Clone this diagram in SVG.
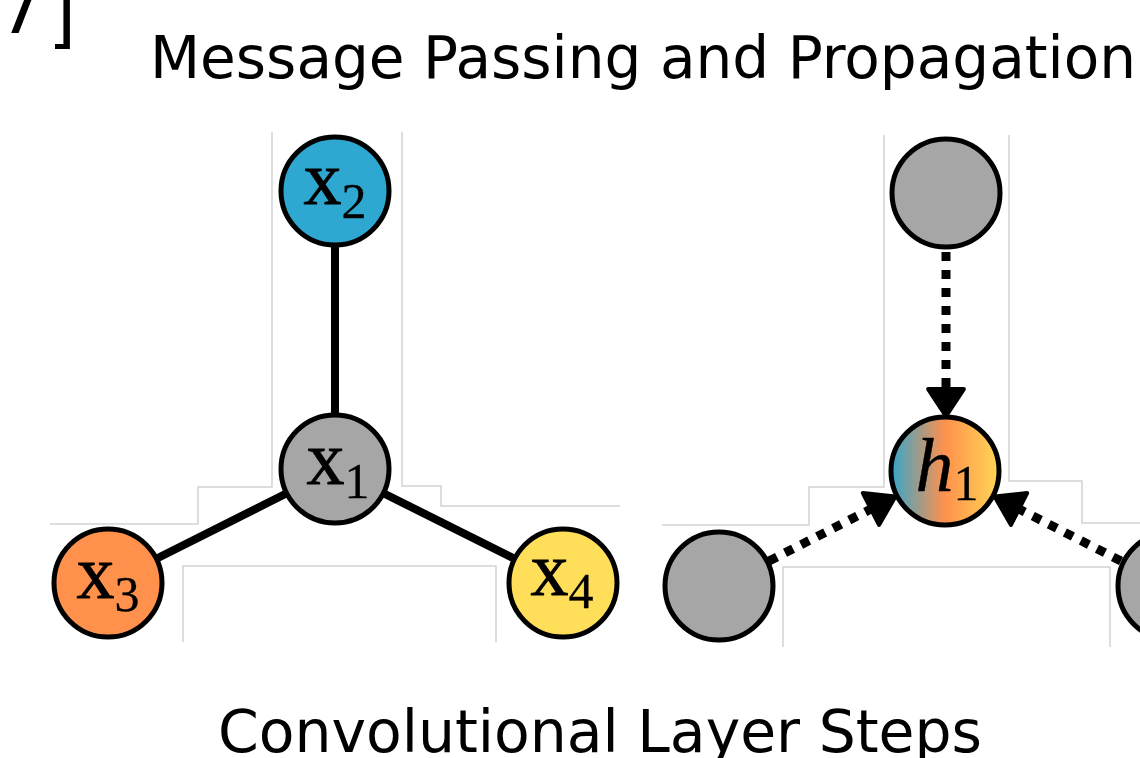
<svg xmlns="http://www.w3.org/2000/svg" width="1140" height="758" viewBox="0 0 1140 758">
  <style>
    .title { font-family: "DejaVu Sans", Verdana, sans-serif; font-size: 58px; fill: #000; }
    .corner { font-family: "DejaVu Sans", Verdana, sans-serif; font-size: 72px; fill: #000; }
    .guide { fill: none; stroke: #d2d2d2; stroke-width: 1.5; }
    .node { stroke: #000; stroke-width: 5; }
    .edge { stroke: #000; stroke-width: 8; fill: none; }
    .msg { stroke: #000; stroke-width: 9; stroke-dasharray: 9 9; fill: none; }
    .lbl { font-family: "Liberation Serif", "Times New Roman", serif; font-size: 76px; fill: #000; stroke: #000; stroke-width: 0.8; }
    .ital { font-style: italic; stroke-width: 0.4; }
    .sub { font-size: 50px; font-style: normal; stroke-width: 0.3; }
    .gray { fill: #a6a6a6; }
  </style>
  <defs>
    <linearGradient id="mix" x1="0" y1="0" x2="1" y2="0">
      <stop offset="0" stop-color="#36a6cc"/>
      <stop offset="0.5" stop-color="#ff914d"/>
      <stop offset="1" stop-color="#ffd655"/>
    </linearGradient>
    <marker id="head" markerUnits="userSpaceOnUse" markerWidth="44" markerHeight="46" viewBox="-3 -22 34 44" refX="0" refY="0" orient="auto">
      <path d="M0,-17 L26,0 L0,17 Z" fill="#000" stroke="#000" stroke-width="4" stroke-linejoin="round"/>
    </marker>
  </defs>

  <rect width="1140" height="758" fill="#fff"/>

  <!-- headings -->
  <text class="corner"><tspan x="-2" y="33">7</tspan><tspan x="48" y="39">]</tspan></text>
  <text class="title" x="150" y="78" textLength="986" lengthAdjust="spacingAndGlyphs">Message Passing and Propagation</text>
  <text class="title" x="218" y="752" textLength="764" lengthAdjust="spacingAndGlyphs">Convolutional Layer Steps</text>

  <!-- light outline strips behind each graph -->
  <g id="guides">
    <polyline class="guide" points="50,524 198,524 198,487 272,487 272,132"/>
    <polyline class="guide" points="402,132 402,486 441,486 441,506 620,506"/>
    <polyline class="guide" points="183,642 183,566 496,566 496,642"/>
    <polyline class="guide" points="662,525 809,525 809,487 884,487 884,135"/>
    <polyline class="guide" points="1009,135 1009,481 1082,481 1082,523 1140,523"/>
    <polyline class="guide" points="783,647 783,567 1110,567 1110,647"/>
  </g>

  <g id="connectors">
    <line class="edge" x1="335" y1="191" x2="335" y2="469"/>
    <line class="edge" x1="335" y1="469" x2="108" y2="583"/>
    <line class="edge" x1="335" y1="469" x2="563" y2="583"/>
    <line class="msg" x1="946" y1="252" x2="946" y2="389" marker-end="url(#head)"/>
    <line class="msg" x1="769" y1="561" x2="871" y2="509" marker-end="url(#head)"/>
    <line class="msg" x1="1121" y1="561" x2="1019" y2="509" marker-end="url(#head)"/>
  </g>

  <g id="node-x2">
    <circle class="node" cx="335" cy="191" r="54" fill="#2ea8d0"/>
    <text class="lbl" x="335" y="204" text-anchor="middle">x<tspan class="sub" dy="14">2</tspan></text>
  </g>
  <g id="node-x1">
    <circle class="node gray" cx="335" cy="469" r="54"/>
    <text class="lbl" x="338" y="484" text-anchor="middle">x<tspan class="sub" dy="14">1</tspan></text>
  </g>
  <g id="node-x3">
    <circle class="node" cx="108" cy="583" r="54" fill="#ff914d"/>
    <text class="lbl" x="108" y="598" text-anchor="middle">x<tspan class="sub" dy="13">3</tspan></text>
  </g>
  <g id="node-x4">
    <circle class="node" cx="563" cy="583" r="54" fill="#ffde59"/>
    <text class="lbl" x="562" y="595" text-anchor="middle">x<tspan class="sub" dy="13">4</tspan></text>
  </g>

  <g id="node-n2">
    <circle class="node gray" cx="946" cy="193" r="54"/>
  </g>
  <g id="node-n3">
    <circle class="node gray" cx="719" cy="586" r="54"/>
  </g>
  <g id="node-n4">
    <circle class="node gray" cx="1172" cy="586" r="54"/>
  </g>
  <g id="node-h1">
    <circle class="node" cx="945" cy="471" r="54" fill="url(#mix)"/>
    <text class="lbl ital" x="947" y="491" text-anchor="middle">h<tspan class="sub" dy="9">1</tspan></text>
  </g>
</svg>
